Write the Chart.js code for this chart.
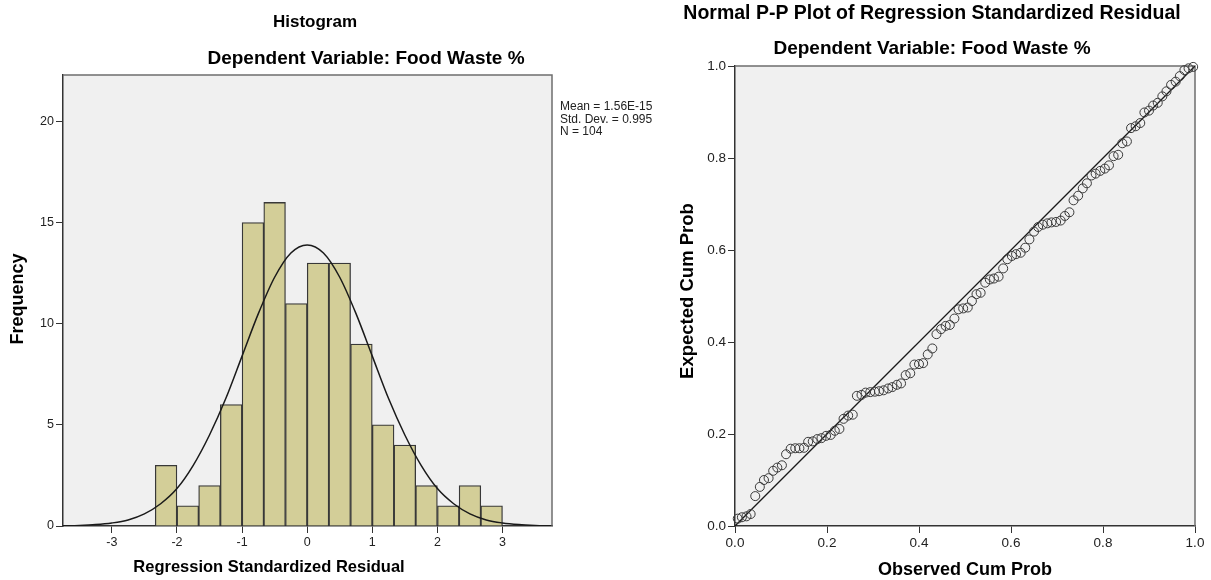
<!DOCTYPE html>
<html>
<head>
<meta charset="utf-8">
<script src="https://cdn.jsdelivr.net/npm/chart.js@4.4.0/dist/chart.umd.min.js"></script>
<style>
body{margin:0;background:#fff;width:1211px;height:580px;overflow:hidden;position:relative}
#histo{position:absolute;left:0;top:0}
#pp{position:absolute;left:665px;top:0}
</style>
</head>
<body>
<canvas id="histo" width="665" height="580"></canvas>
<canvas id="pp" width="546" height="580"></canvas>
<script>
// ---- histogram data (bins are 1/3 wide) ----
const binCenters = [-2.167,-1.833,-1.5,-1.167,-0.833,-0.5,-0.167,0.167,0.5,0.833,1.167,1.5,1.833,2.167,2.5,2.833];
const binCounts  = [3,1,2,6,15,16,11,13,13,9,5,4,2,1,2,1];
// normal curve
const curveX = [-3.75,-3.5,-3.25,-3,-2.75,-2.5,-2.25,-2,-1.75,-1.5,-1.25,-1,-0.75,-0.5,-0.25,0,0.25,0.5,0.75,1,1.25,1.5,1.75,2,2.25,2.5,2.75,3,3.25,3.5,3.75];
const curveY = [0.01,0.03,0.07,0.15,0.3,0.6,1.1,1.85,3.0,4.5,6.3,8.4,10.5,12.3,13.5,13.9,13.5,12.3,10.5,8.4,6.3,4.5,3.0,1.85,1.1,0.6,0.3,0.15,0.07,0.03,0.01];
const histXTicks = [-3,-2,-1,0,1,2,3];
const histYTicks = [0,5,10,15,20];
const statsText = ['Mean = 1.56E-15','Std. Dev. = 0.995','N = 104'];

// ---- P-P plot data ----
const obsCum = [0.006,0.015,0.025,0.034,0.044,0.054,0.063,0.073,0.083,0.092,
  0.102,0.111,0.121,0.131,0.140,0.150,0.159,0.169,0.179,0.188,
  0.198,0.208,0.217,0.227,0.236,0.246,0.256,0.265,0.275,0.284,
  0.294,0.304,0.313,0.323,0.333,0.342,0.352,0.361,0.371,0.381,
  0.390,0.400,0.409,0.419,0.429,0.438,0.448,0.458,0.467,0.477,
  0.486,0.496,0.506,0.515,0.525,0.534,0.544,0.554,0.563,0.573,
  0.583,0.592,0.602,0.611,0.621,0.631,0.640,0.650,0.659,0.669,
  0.679,0.688,0.698,0.708,0.717,0.727,0.736,0.746,0.756,0.765,
  0.775,0.784,0.794,0.804,0.813,0.823,0.833,0.842,0.852,0.861,
  0.871,0.881,0.890,0.900,0.909,0.919,0.929,0.938,0.948,0.958,
  0.967,0.977,0.986,0.996];
const expCum = [0.016,0.019,0.021,0.026,0.065,0.085,0.100,0.104,0.120,0.127,
  0.132,0.156,0.168,0.169,0.169,0.170,0.183,0.184,0.189,0.191,
  0.196,0.198,0.207,0.211,0.233,0.240,0.242,0.283,0.285,0.290,
  0.291,0.292,0.293,0.295,0.299,0.302,0.307,0.310,0.328,0.332,
  0.351,0.352,0.354,0.373,0.386,0.417,0.428,0.435,0.437,0.451,
  0.471,0.473,0.475,0.489,0.504,0.507,0.529,0.536,0.538,0.542,
  0.560,0.580,0.587,0.591,0.594,0.605,0.623,0.640,0.650,0.655,
  0.658,0.660,0.661,0.664,0.674,0.682,0.708,0.718,0.734,0.745,
  0.762,0.766,0.772,0.777,0.784,0.804,0.807,0.832,0.836,0.865,
  0.869,0.876,0.899,0.903,0.914,0.920,0.934,0.945,0.959,0.966,
  0.978,0.991,0.995,0.998];
const refLine = [0,1];
const ppTicks = [0,0.2,0.4,0.6,0.8,1.0];

const FAM = '"Liberation Sans", Arial, sans-serif';
Chart.defaults.font.family = FAM;
Chart.defaults.color = '#222';

const bold = s => 'bold ' + s + 'px ' + FAM;

// grey plot area + frame
const frame = {
  id:'frame',
  beforeDraw(chart){
    const a = chart.chartArea, c = chart.ctx;
    c.save();
    c.fillStyle = '#f0f0f0';
    c.fillRect(a.left, a.top, a.right-a.left, a.bottom-a.top);
    c.restore();
  },
  beforeDatasetsDraw(chart){
    const a = chart.chartArea, c = chart.ctx;
    c.save();
    c.strokeStyle = '#6e6e6e';
    c.lineWidth = 1.5;
    c.beginPath();
    c.moveTo(a.left, a.top); c.lineTo(a.right, a.top); c.lineTo(a.right, a.bottom);
    c.stroke();
    c.restore();
  }
};

function texts(items){
  return {
    id:'texts',
    afterDraw(chart){
      const c = chart.ctx;
      items.forEach(t=>{
        c.save();
        c.font = t.font;
        c.fillStyle = t.color || '#000';
        c.textAlign = t.align || 'center';
        c.textBaseline = 'middle';
        c.translate(t.x, t.y);
        if (t.rot) c.rotate(t.rot);
        c.fillText(t.text, 0, 0);
        c.restore();
      });
    }
  };
}

function axis(min, max, ticks, fmt, fitSize, isY, fsize){
  return {
    type:'linear', min:min, max:max, offset:false,
    afterBuildTicks: s => { s.ticks = ticks.map(v=>({value:v})); },
    afterFit: s => { if (isY) s.width = fitSize; else s.height = fitSize; },
    ticks:{ font:{size:fsize}, color:'#222', padding:2, maxRotation:0, autoSkip:false, callback: fmt },
    grid:{ display:true, drawOnChartArea:false, drawTicks:true, tickLength:7, color:'#333', offset:false },
    border:{ display:true, color:'#333', width:1.5 }
  };
}

// ---- histogram ----
const histItems = [
  {text:'Histogram', x:315, y:22, font:bold(17)},
  {text:'Dependent Variable: Food Waste %', x:366, y:59, font:bold(19)},
  {text:'Regression Standardized Residual', x:269, y:567, font:bold(16.5)},
  {text:'Frequency', x:18, y:299, font:bold(18), rot:-Math.PI/2}
];
statsText.forEach((s,i)=>histItems.push({text:s, x:560, y:107+i*12.5, font:'12px ' + FAM, align:'left', color:'#222'}));

new Chart(document.getElementById('histo'), {
  type:'bar',
  data:{
    datasets:[
      {
        type:'line',
        data: curveX.map((x,i)=>({x:x, y:curveY[i]})),
        borderColor:'#1a1a1a', borderWidth:1.5, pointRadius:0,
        cubicInterpolationMode:'monotone', order:0
      },
      {
        type:'bar',
        data: binCenters.map((x,i)=>({x:x, y:binCounts[i]})),
        backgroundColor:'#d3ce98', borderColor:'#383838', borderWidth:1.3,
        barPercentage:1, categoryPercentage:1, order:1
      }
    ]
  },
  options:{
    responsive:false, animation:false,
    layout:{ padding:{left:0, top:75, right:113, bottom:0} },
    plugins:{ legend:{display:false}, tooltip:{enabled:false} },
    scales:{
      x: axis(-3.75, 3.76, histXTicks, v=>v, 54, false, 12.5),
      y: axis(0, 22.3, histYTicks, v=>v, 63, true, 12.5)
    }
  },
  plugins:[frame, texts(histItems)]
});

// ---- normal P-P plot ----
const ppItems = [
  {text:'Normal P-P Plot of Regression Standardized Residual', x:267, y:14, font:bold(19.5)},
  {text:'Dependent Variable: Food Waste %', x:267, y:49, font:bold(19)},
  {text:'Observed Cum Prob', x:300, y:570, font:bold(18)},
  {text:'Expected Cum Prob', x:23, y:291, font:bold(18.5), rot:-Math.PI/2}
];

new Chart(document.getElementById('pp'), {
  type:'scatter',
  data:{
    datasets:[
      {
        data: refLine.map(v=>({x:v, y:v})),
        showLine:true, borderColor:'#1a1a1a', borderWidth:1.3, pointRadius:0, order:1
      },
      {
        data: obsCum.map((x,i)=>({x:x, y:expCum[i]})),
        pointRadius:4.5, pointBorderColor:'#3a3a3a', pointBorderWidth:1,
        pointBackgroundColor:'rgba(0,0,0,0)', clip:false, order:0
      }
    ]
  },
  options:{
    responsive:false, animation:false,
    layout:{ padding:{left:0, top:66, right:16, bottom:0} },
    plugins:{ legend:{display:false}, tooltip:{enabled:false} },
    scales:{
      x: axis(0, 1, ppTicks, v=>v.toFixed(1), 54, false, 13.5),
      y: axis(0, 1, ppTicks, v=>v.toFixed(1), 70, true, 13.5)
    }
  },
  plugins:[frame, texts(ppItems)]
});
</script>
</body>
</html>
